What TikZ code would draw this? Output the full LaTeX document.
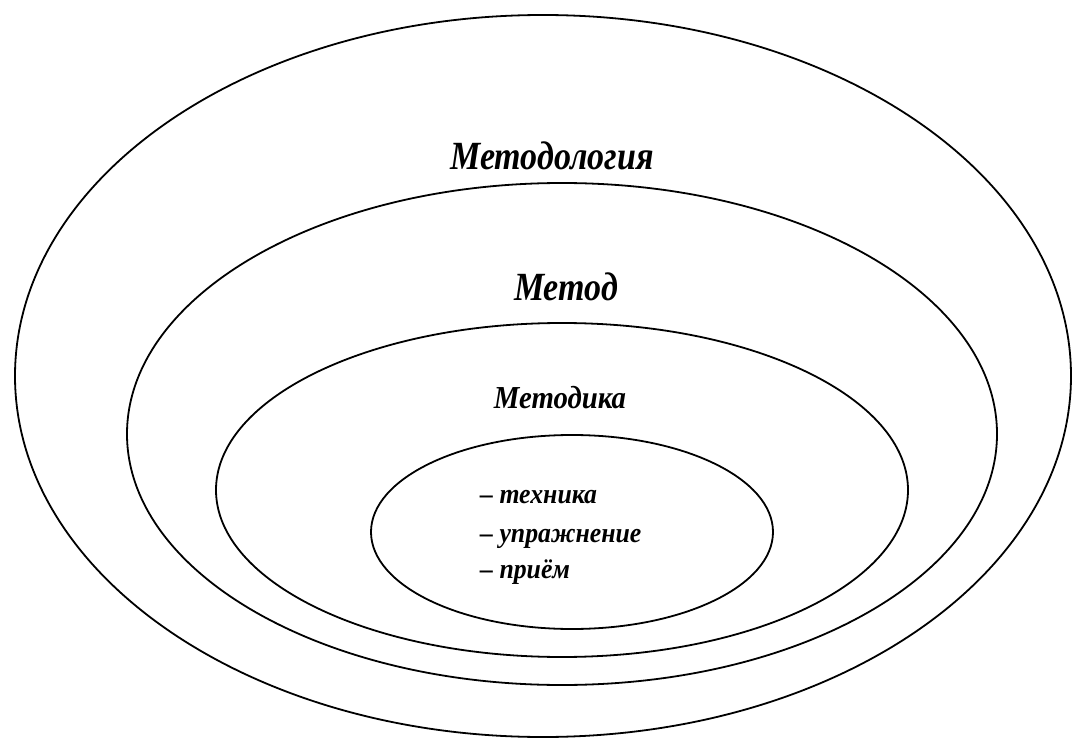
\documentclass[tikz,border=0pt]{standalone}
\usepackage{fontspec}
\setmainfont{Liberation Serif}
\begin{document}
\begin{tikzpicture}[x=1pt,y=-1pt,
  ring/.style={draw=black,line width=1.8pt},
  bigtitle/.style={anchor=base,inner sep=0pt,font=\fontsize{40}{48}\selectfont\bfseries\itshape},
  midtitle/.style={anchor=base,inner sep=0pt,font=\fontsize{32}{38}\selectfont\bfseries\itshape},
  item/.style={anchor=base west,inner sep=0pt,font=\fontsize{28}{32}\selectfont\bfseries\itshape}]
\useasboundingbox (0,0) rectangle (1074,741);
\draw[ring] (543,376) ellipse [x radius=528pt, y radius=361pt];
\draw[ring] (562,434) ellipse [x radius=435pt, y radius=251pt];
\draw[ring] (562,490) ellipse [x radius=346pt, y radius=167pt];
\draw[ring] (572,532) ellipse [x radius=201pt, y radius=97pt];
\node[bigtitle] (t1) at (552,170) {\scalebox{0.85}[1]{Методология}};
\node[bigtitle] (t2) at (566,300) {\scalebox{0.85}[1]{Метод}};
\node[midtitle] (t3) at (560,408) {\scalebox{0.9}[1]{Методика}};
\node[item] (i1) at (480,503) {\scalebox{0.92}[1]{– техника}};
\node[item] (i2) at (480,542) {\scalebox{0.92}[1]{– упражнение}};
\node[item] (i3) at (480,578) {\scalebox{0.92}[1]{– приём}};
\end{tikzpicture}
\end{document}
